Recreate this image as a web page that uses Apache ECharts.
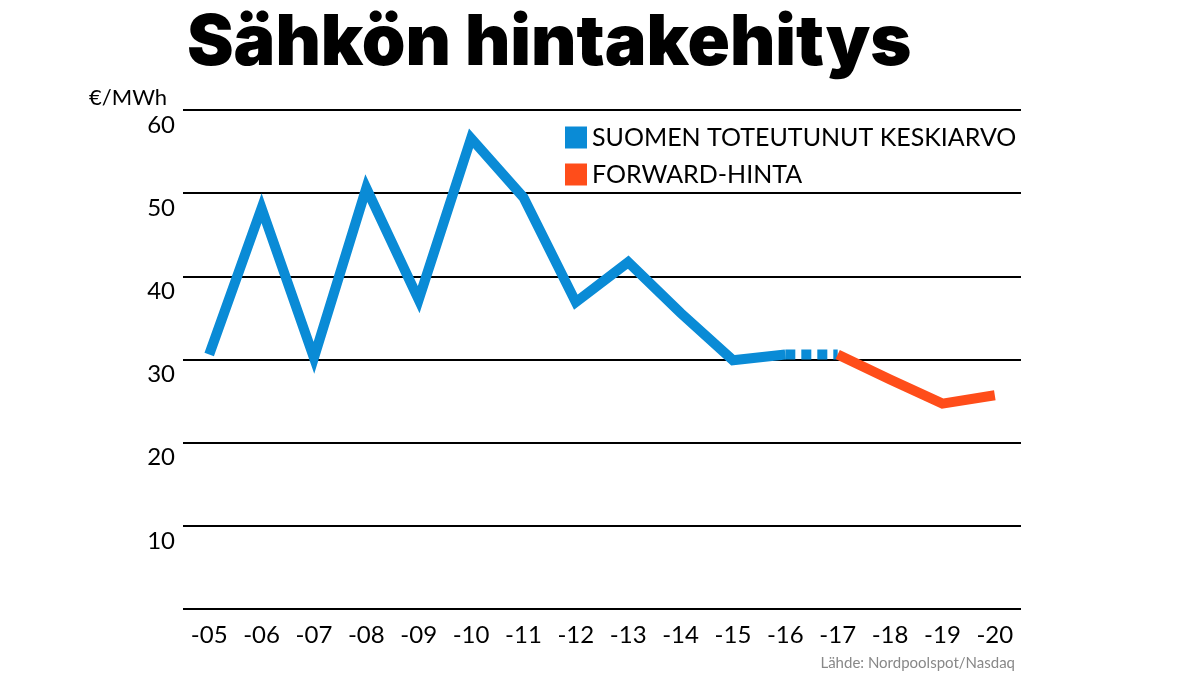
<!DOCTYPE html>
<html><head><meta charset="utf-8">
<script src="https://cdn.jsdelivr.net/npm/echarts@6/dist/echarts.min.js"></script>
<style>html,body{margin:0;padding:0;background:#fff}#c{width:1198px;height:674px}</style>
</head><body><div id="c"></div>
<script>
const categories = ['-05','-06','-07','-08','-09','-10','-11','-12','-13','-14','-15','-16','-17','-18','-19','-20'];
const actual = [30.6,48.2,30.2,50.6,37.2,56.6,49.5,36.9,41.7,35.6,29.9,30.6,null,null,null,null];
const bridge = [null,null,null,null,null,null,null,null,null,null,null,30.6,30.6,null,null,null];
const forward = [null,null,null,null,null,null,null,null,null,null,null,null,30.6,27.6,24.7,25.7];
const yTicks = [0,10,20,30,40,50,60];
const BLUE='#0a8bd6', RED='#ff4d1a';
const chart = echarts.init(document.getElementById('c'));
chart.setOption({
  animation:false,
  title:[
    {text:'Sähkön hintakehitys',left:182,top:4,textStyle:{fontFamily:'Inter',fontWeight:900,fontSize:70,color:'#000'}},
    {text:'€/MWh',left:84,top:82,textStyle:{fontFamily:'Lato',fontWeight:'normal',fontSize:22,color:'#000'}},
    {text:'Lähde: Nordpoolspot/Nasdaq',right:178,top:651,textStyle:{fontFamily:'Lato',fontWeight:'normal',fontSize:15,color:'#888'}}
  ],
  legend:{left:560,top:120,orient:'vertical',itemGap:12,itemWidth:22,itemHeight:22,icon:'rect',
    textStyle:{fontFamily:'Lato',fontSize:25,color:'#000'},
    data:['SUOMEN TOTEUTUNUT KESKIARVO','FORWARD-HINTA']},
  grid:{left:183,right:177,top:110,bottom:65},
  xAxis:{type:'category',data:categories,boundaryGap:true,
    axisLine:{show:false},axisTick:{show:false},
    axisLabel:{fontFamily:'Lato',fontSize:24,color:'#000',margin:14}},
  yAxis:{type:'value',min:0,max:60,interval:10,
    axisLabel:{fontFamily:'Lato',fontSize:24,color:'#000',verticalAlign:'top',margin:8,padding:[3,0,0,0],
      formatter:v=>(yTicks.includes(v)&&v!==0)?String(v):''},
    splitLine:{lineStyle:{color:'#000',width:2}}},
  series:[
    {name:'SUOMEN TOTEUTUNUT KESKIARVO',type:'line',data:actual,symbol:'none',itemStyle:{color:BLUE},lineStyle:{color:BLUE,width:10,cap:'butt',join:'miter'}},
    {name:'bridge',type:'line',data:bridge,symbol:'none',lineStyle:{color:BLUE,width:10,type:[10,6]}},
    {name:'FORWARD-HINTA',type:'line',data:forward,symbol:'none',itemStyle:{color:RED},lineStyle:{color:RED,width:10,join:'miter'}}
  ]
});
</script></body></html>
